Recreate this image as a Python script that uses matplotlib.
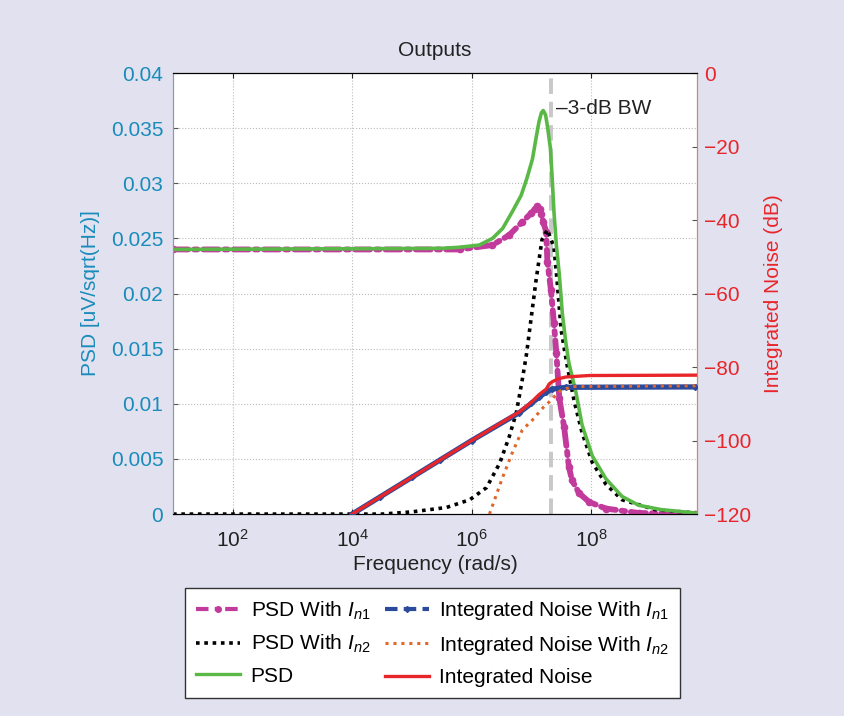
import numpy as np
import matplotlib
matplotlib.use("Agg")
import matplotlib.pyplot as plt
from matplotlib.lines import Line2D

plt.rcParams['font.family'] = ['Liberation Sans', 'DejaVu Sans']
plt.rcParams['mathtext.fontset'] = 'custom'
plt.rcParams['mathtext.rm'] = 'Liberation Sans'
plt.rcParams['mathtext.it'] = 'Liberation Sans:italic'

# ---- data (log10 of frequency in rad/s, values) ----
psd_logf = [1.0, 5.5, 5.8, 6.13, 6.35, 6.52, 6.68, 6.83, 6.93, 7.02, 7.08, 7.13, 7.17, 7.2,
            7.24, 7.27, 7.32, 7.35, 7.38, 7.42, 7.47, 7.52, 7.58, 7.63, 7.75, 7.85, 8.02, 8.25,
            8.52, 8.8, 9.18, 9.75]
psd_val = [0.024, 0.0241, 0.0242, 0.0244, 0.025, 0.0259, 0.0274, 0.0289, 0.0305, 0.0322,
           0.0341, 0.0356, 0.0364, 0.0366, 0.0362, 0.0352, 0.0332, 0.0305, 0.0274, 0.0244,
           0.0217, 0.0182, 0.0155, 0.0137, 0.011, 0.0081, 0.0053, 0.0032, 0.0016, 0.0008,
           0.0004, 0.0001]

psd1_logf = [1.0, 5.8, 6.35, 6.63, 6.85, 7.0, 7.07, 7.1, 7.14, 7.17, 7.2, 7.25, 7.27, 7.33,
             7.38, 7.42, 7.47, 7.55, 7.63, 7.68, 7.8, 7.97, 8.25, 8.8, 9.75]
psd1_val = [0.024, 0.024, 0.0244, 0.0253, 0.0265, 0.0273, 0.0277, 0.0279, 0.0277, 0.0272,
            0.0265, 0.0256, 0.0229, 0.0203, 0.0173, 0.0146, 0.0105, 0.0079, 0.0043, 0.0031,
            0.0019, 0.0011, 0.0005, 0.0001, 0.0]

psd2_logf = [1.0, 4.5, 5.0, 5.58, 5.97, 6.25, 6.47, 6.63, 6.75, 6.85, 6.92, 7.08, 7.18, 7.27,
             7.38, 7.43, 7.5, 7.6, 7.72, 7.85, 8.02, 8.25, 8.52, 9.08, 9.75]
psd2_val = [0.0, 0.0, 0.0002, 0.0006, 0.0013, 0.0024, 0.0046, 0.007, 0.0092, 0.0122, 0.0145,
            0.0212, 0.0249, 0.0258, 0.0242, 0.0213, 0.0167, 0.0135, 0.0102, 0.0074, 0.0047,
            0.0027, 0.0013, 0.0004, 0.0001]

int_logf = [4.0, 4.47, 5.0, 5.47, 6.0, 6.8, 7.0, 7.13, 7.25, 7.3, 7.35, 7.45, 7.58, 7.97, 9.75]
int_val = [-120, -115.3, -110, -105.3, -100, -92.2, -89.6, -87.5, -86.0, -84.6, -84.0, -83.2,
           -82.7, -82.3, -82.2]

int1_logf = [4.0, 4.47, 5.0, 5.47, 6.0, 6.8, 7.0, 7.13, 7.25, 7.35, 7.58, 9.75]
int1_val = [-120, -115.3, -110, -105.3, -100, -92.4, -89.9, -88.2, -86.8, -86.0, -85.5, -85.4]

int2_logf = [6.3, 6.52, 6.68, 6.85, 7.02, 7.13, 7.2, 7.3, 7.47, 7.68, 9.75]
int2_val = [-120, -110, -103.4, -97.1, -94.4, -92.3, -91.0, -89.5, -86.6, -85.3, -85.1]

bw_logf = 7.33
xlim_f = (1e1, 6e9)
left_ticks = [0, 0.005, 0.01, 0.015, 0.02, 0.025, 0.03, 0.035, 0.04]
left_ticklabels = ['0', '0.005', '0.01', '0.015', '0.02', '0.025', '0.03', '0.035', '0.04']
right_ticks = [-120, -100, -80, -60, -40, -20, 0]
right_ticklabels = ['\u2212120', '\u2212100', '\u221280', '\u221260', '\u221240', '\u221220', '0']

# ---- colours ----
C_GREEN = '#5ab946'
C_MAG = '#c23b9c'
C_BLUE = '#2b4a9c'
C_RED = '#e8262a'
C_ORANGE = '#e0662a'
C_LEFT = '#1a8cba'
C_BG = '#e1e1f0'
FS = 15

def f(a):
    return np.power(10.0, np.asarray(a, dtype=float))

fig = plt.figure(figsize=(8.44, 7.16), dpi=100, facecolor=C_BG)
ax = fig.add_axes([0.205, 0.282, 0.621, 0.616])
ax.set_facecolor('white')
ax2 = ax.twinx()

ax.set_xscale('log')
ax.set_xlim(*xlim_f)
ax.set_ylim(0, 0.04)
ax2.set_ylim(-120, 0)

# PSD curves (left axis)
ax.plot(f(psd1_logf), psd1_val, color=C_MAG, ls=(0, (2.6, 1.0, 0.6, 1.0)), lw=4.2,
        marker='o', ms=4.5, zorder=3, solid_capstyle='round', dash_capstyle='round')
ax.plot(f(psd2_logf), psd2_val, color='black', ls=(0, (1, 1.3)), lw=2.6, zorder=3)
ax.plot(f(psd_logf), psd_val, color=C_GREEN, ls='-', lw=2.6, zorder=4,
        solid_joinstyle='round')

# Integrated noise curves (right axis)
ax2.plot(f(int1_logf), int1_val, color=C_BLUE, ls='-', lw=3.8, zorder=3)
ax2.plot(f(int1_logf), int1_val, color=C_BLUE, ls='none', marker='D', ms=3, zorder=3)
ax2.plot(f(int2_logf), int2_val, color=C_ORANGE, ls=(0, (1, 1.6)), lw=2.2, zorder=3)
ax2.plot(f(int_logf), int_val, color=C_RED, ls='-', lw=2.4, zorder=4,
         solid_joinstyle='round')

# -3 dB bandwidth line
ax.axvline(10 ** bw_logf, color='#c8c8c8', ls=(0, (4, 2)), lw=2.8, zorder=2)
ax.text(10 ** (bw_logf + 0.08), 0.0368, '\u20133-dB BW', fontsize=FS,
        va='center', ha='left', color='#222222')

# grids
ax.grid(True, which='major', axis='both', ls=':', color='#bbbbbb', lw=0.8)
ax.grid(True, which='minor', axis='x', ls=':', color='#dddddd', lw=0.6)
ax.set_axisbelow(True)

ax.set_xticks([1e2, 1e4, 1e6, 1e8])
ax.set_yticks(left_ticks)
ax.set_yticklabels(left_ticklabels)
ax2.set_yticks(right_ticks)
ax2.set_yticklabels(right_ticklabels)

ax.tick_params(axis='x', which='both', direction='in', top=True, labelsize=FS,
               colors='#222222', pad=11)
ax.tick_params(axis='y', direction='in', labelsize=FS, labelcolor=C_LEFT, color='#555555', pad=7)
ax2.tick_params(axis='y', direction='in', labelsize=FS, labelcolor=C_RED, color='#555555', pad=5)

ax.spines['left'].set_color('#8a9aae')
ax2.spines['left'].set_color('#8a9aae')
ax2.spines['right'].set_color('#d08a55')
ax.spines['right'].set_color('#d08a55')

ax.set_xlabel('Frequency (rad/s)', fontsize=FS, color='#222222', labelpad=3)
ax.set_ylabel('PSD [uV/sqrt(Hz)]', fontsize=FS, color=C_LEFT, labelpad=8)
ax2.set_ylabel('Integrated Noise (dB)', fontsize=FS, color=C_RED, labelpad=9)
ax.set_title('Outputs', fontsize=FS, color='#222222', pad=12)

# legend (proxy handles carry the line styles of each series)
handles = [
    Line2D([], [], color=C_MAG, ls=(0, (3, 1.5, 1, 1.5)), lw=3, marker='o', ms=4),
    Line2D([], [], color='black', ls=(0, (1, 1.3)), lw=2.6),
    Line2D([], [], color=C_GREEN, ls='-', lw=2.4),
    Line2D([], [], color=C_BLUE, ls=(0, (3, 1.5)), lw=3, marker='D', ms=3),
    Line2D([], [], color=C_ORANGE, ls=(0, (1, 1.6)), lw=2.2),
    Line2D([], [], color=C_RED, ls='-', lw=2.4),
]
labels = [r'PSD With $I_{n1}$', r'PSD With $I_{n2}$', 'PSD',
          r'Integrated Noise With $I_{n1}$', r'Integrated Noise With $I_{n2}$', 'Integrated Noise']
leg = fig.legend(handles=handles, labels=labels, ncol=2,
                 loc='upper left', bbox_to_anchor=(185 / 844, 1 - 588 / 716),
                 fontsize=FS, frameon=True, fancybox=False,
                 edgecolor='#333333', framealpha=1, handlelength=2.1, handletextpad=0.5,
                 columnspacing=0.7, labelspacing=0.54, borderaxespad=0.0, borderpad=0.55)
leg.get_frame().set_linewidth(1.0)

fig.savefig('out.png', dpi=100, facecolor=C_BG)
